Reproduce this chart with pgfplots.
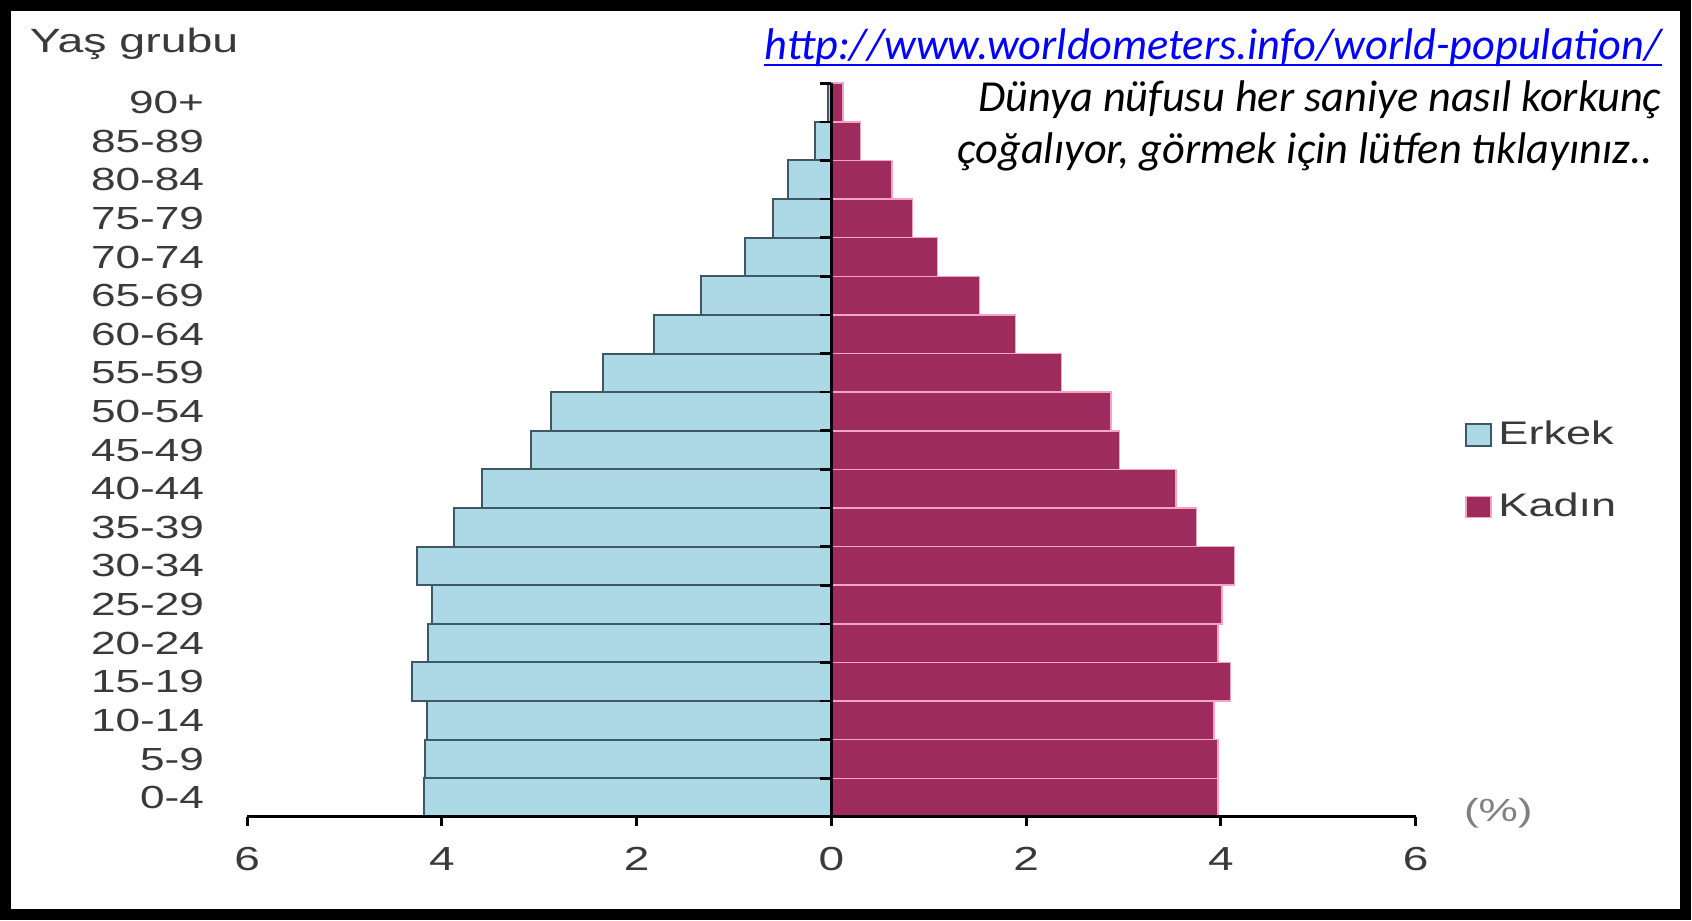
\documentclass[border=0pt]{standalone}
\usepackage{pgfplots}
\pgfplotsset{compat=1.18}
\usepackage{pgfplotstable}
\usepackage{fontspec}
\setmainfont{Liberation Sans}
\newfontfamily\chartfont[FakeStretch=1.38]{Liberation Sans}
\newfontfamily\calib{Carlito}

\definecolor{maleFill}{HTML}{ADD8E6}
\definecolor{maleLine}{HTML}{3E5866}
\definecolor{femFill}{HTML}{9E2B5E}
\definecolor{femLine}{HTML}{F2A4C2}
\definecolor{txtgray}{HTML}{3A3A3A}
\definecolor{linkblue}{HTML}{0000FF}

% age group index, male %, female %
\pgfplotstableread{
idx male female
0  4.18 3.97
1  4.17 3.97
2  4.15 3.93
3  4.31 4.10
4  4.14 3.97
5  4.10 4.01
6  4.26 4.14
7  3.88 3.75
8  3.59 3.54
9  3.09 2.96
10 2.88 2.87
11 2.35 2.36
12 1.82 1.89
13 1.34 1.52
14 0.89 1.09
15 0.60 0.83
16 0.45 0.62
17 0.17 0.30
18 0.04 0.12
}\pyr

\begin{document}
\begin{tikzpicture}
\useasboundingbox (0,0) rectangle (507.6pt,276pt);
\fill[white] (0,0) rectangle (507.6pt,276pt);

\begin{axis}[
    at={(74.13pt,30.93pt)}, anchor=south west,
    scale only axis, width=350.6pt, height=220.1pt,
    xmin=-6, xmax=6, ymin=-0.5, ymax=18.5,
    xbar, bar width=1, bar shift=0,
    axis on top,
    axis x line=bottom, axis y line=left,
    x axis line style={-, line width=0.9pt},
    y axis line style={draw=none},
    xtick={-6,-4,...,6}, xticklabels={6,4,2,0,2,4,6},
    tick align=outside, major tick length=2.6pt,
    xtick style={draw=black, line width=0.9pt},
    ytick style={draw=none},
    ytick={0,...,18},
    yticklabels={0-4,5-9,10-14,15-19,20-24,25-29,30-34,35-39,40-44,45-49,50-54,55-59,60-64,65-69,70-74,75-79,80-84,85-89,90+},
    ticklabel style={font=\chartfont\fontsize{9.6}{11}\selectfont, text=txtgray},
    xticklabel style={yshift=-3pt, font=\chartfont\fontsize{10}{12}\selectfont},
    yticklabel style={xshift=-6.8pt},
    legend image code/.code={\draw[#1] (0pt,-3.2pt) rectangle (7.4pt,3.2pt);},
    legend style={draw=none, fill=none, at={(axis cs:6.5,9.95)}, anchor=north west,
        inner sep=0pt, row sep=9pt, legend cell align=left,
        font=\chartfont\fontsize{9.8}{11}\selectfont, text=txtgray},
    clip=false,
]
\addplot[fill=maleFill, draw=maleLine, line width=0.6pt]
    table[x expr=-\thisrow{male}, y=idx] {\pyr};
\addlegendentry{Erkek}
\addplot[fill=femFill, draw=femLine, line width=0.45pt]
    table[x=female, y=idx] {\pyr};
\addlegendentry{Kadın}
\draw[black, line width=1pt] (axis cs:0,-0.5) -- (axis cs:0,18.5);
\pgfplotsinvokeforeach{-0.5,0.5,...,18.5}{
    \draw[black, line width=0.8pt] (axis cs:0,#1) -- ([xshift=-3.5pt]axis cs:0,#1);
}
\end{axis}

\node[anchor=base west, inner sep=0pt, text=txtgray,
      font=\chartfont\fontsize{10.1}{12}\selectfont] at (8.8pt,260.1pt) {Yaş grubu};
\node[anchor=center, inner sep=0pt, text=gray,
      font=\chartfont\fontsize{9.6}{11}\selectfont] at (449.5pt,32.1pt) {(\%)};

\node[anchor=base east, inner sep=0pt, text=linkblue,
      font=\calib\itshape\fontsize{13.3}{15}\selectfont] (url) at (498.6pt,258.2pt)
      {http://www.worldometers.info/world-population/};
\draw[linkblue, line width=0.55pt] ([yshift=-1.6pt]url.base west) -- ([yshift=-1.6pt]url.base east);
\node[anchor=base east, inner sep=0pt, text=black,
      font=\calib\itshape\fontsize{13.3}{15}\selectfont] at (498.6pt,242.5pt)
      {Dünya nüfusu her saniye nasıl korkunç};
\node[anchor=base east, inner sep=0pt, text=black,
      font=\calib\itshape\fontsize{13.3}{15}\selectfont] at (496pt,226.8pt)
      {çoğalıyor, görmek için lütfen tıklayınız..};

\draw[black, line width=3.3pt] (1.65pt,1.65pt) rectangle (505.6pt,274.35pt);
\end{tikzpicture}
\end{document}
